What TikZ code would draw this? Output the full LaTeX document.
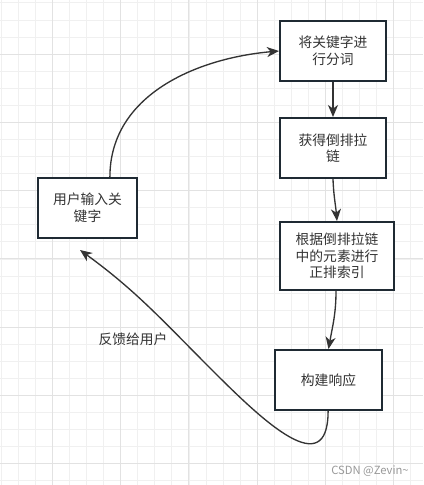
\documentclass[tikz,border=0pt]{standalone}
\usepackage{fontspec}
\setmainfont{Noto Sans CJK SC}
\usetikzlibrary{arrows.meta}

\definecolor{boxline}{HTML}{1F2A33}
\definecolor{inkline}{HTML}{333333}
\definecolor{gridminor}{HTML}{F0F0F0}
\definecolor{gridmajor}{HTML}{E2E2E2}

\begin{document}
\begin{tikzpicture}[
    x=0.25mm, y=-0.25mm,
    box/.style={rectangle, draw=boxline, line width=1.4pt, fill=white, text=inkline,
        minimum width=26.5mm, minimum height=15mm, inner sep=1pt, align=center,
        font=\fontsize{9.8}{11.8}\selectfont},
    link/.style={draw=inkline, line width=0.95pt, -{Stealth[length=3mm, width=2.5mm, inset=0.9mm]}},
    note/.style={text=inkline, font=\fontsize{9.8}{11.8}\selectfont}
]

\useasboundingbox (0,0) rectangle (423,485);
\fill[white] (0,0) rectangle (423,485);

% background grid
\foreach \i in {0,...,24} {
    \draw[gridminor, line width=0.5pt] ({1.1+17.07*\i},0) -- ({1.1+17.07*\i},485);
}
\foreach \i in {0,...,28} {
    \draw[gridminor, line width=0.5pt] (0,{2.8+17.07*\i}) -- (423,{2.8+17.07*\i});
}
\foreach \i in {0,...,5} {
    \draw[gridmajor, line width=0.6pt] ({52.3+68.28*\i},0) -- ({52.3+68.28*\i},485);
}
\foreach \i in {0,...,6} {
    \draw[gridmajor, line width=0.6pt] (0,{54+68.28*\i}) -- (423,{54+68.28*\i});
}

% Define node positions
\node[box] (split) at (333, 51) {将关键字进\\行分词};
\node[box] (chain) at (333, 148) {获得倒排拉\\链};
\node[box, minimum width=28.5mm, minimum height=17mm] (index) at (337, 256) {根据倒排拉链\\中的元素进行\\正排索引};
\node[box, minimum width=26.75mm] (reply) at (328.5, 380) {构建响应};
\node[box, minimum width=24.75mm] (user) at (87.5, 208) {用户输入关\\键字};

\coordinate (back) at (212, 370);
\coordinate (backtip) at (80, 250);

% Draw connectors
\draw[link] ([xshift=5.6mm]user.north) to[out=90, in=185] (split.west);
\draw[link] (split) -- (chain);
\draw[link] (chain.south) to[out=-88, in=95] (index.north);
\draw[link] ([xshift=-0.25mm]index.south) to[out=-90, in=80] (reply.north);
\draw[link] ([xshift=-0.1mm]reply.south) to[out=-90, in=-45, looseness=1.5] (back)
    to[out=135, in=-36] (backtip);

% Add feedback label
\node[note] (feedback) at (133, 339) {反馈给用户};

% watermark
\node[text=gray!80, font=\fontsize{8}{9}\selectfont] (mark) at (370, 471) {CSDN @Zevin\textasciitilde};

\end{tikzpicture}
\end{document}
